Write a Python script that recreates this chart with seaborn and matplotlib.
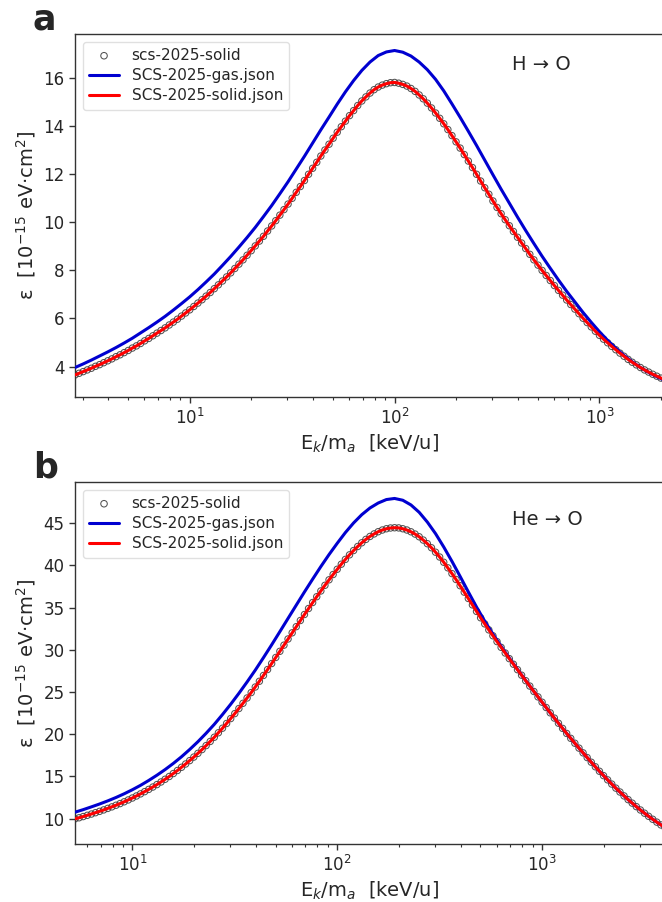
import matplotlib
matplotlib.use("Agg")
import matplotlib.pyplot as plt
import seaborn as sns

# ---- H -> O : energy grid [keV/u] and stopping cross sections [1e-15 eV cm^2]
energy_h = [
    2.754, 2.884, 3.020,
    3.162, 3.311, 3.467, 3.631, 3.802,
    3.981, 4.169, 4.365, 4.571, 4.786,
    5.012, 5.248, 5.495, 5.754, 6.026,
    6.310, 6.607, 6.918, 7.244, 7.586,
    7.943, 8.318, 8.710, 9.120, 9.550,
    10.00, 10.47, 10.96, 11.48, 12.02,
    12.59, 13.18, 13.80, 14.45, 15.14,
    15.85, 16.60, 17.38, 18.20, 19.05,
    19.95, 20.89, 21.88, 22.91, 23.99,
    25.12, 26.30, 27.54, 28.84, 30.20,
    31.62, 33.11, 34.67, 36.31, 38.02,
    39.81, 41.69, 43.65, 45.71, 47.86,
    50.12, 52.48, 54.95, 57.54, 60.26,
    63.10, 66.07, 69.18, 72.44, 75.86,
    79.43, 83.18, 87.10, 91.20, 95.50,
    100.0, 104.7, 109.6, 114.8, 120.2,
    125.9, 131.8, 138.0, 144.5, 151.4,
    158.5, 166.0, 173.8, 182.0, 190.5,
    199.5, 208.9, 218.8, 229.1, 239.9,
    251.2, 263.0, 275.4, 288.4, 302.0,
    316.2, 331.1, 346.7, 363.1, 380.2,
    398.1, 416.9, 436.5, 457.1, 478.6,
    501.2, 524.8, 549.5, 575.4, 602.6,
    631.0, 660.7, 691.8, 724.4, 758.6,
    794.3, 831.8, 871.0, 912.0, 955.0,
    1000.0, 1047.0, 1096.0, 1148.0, 1202.0,
    1259.0, 1318.0, 1380.0, 1445.0, 1514.0,
    1585.0, 1660.0, 1738.0, 1820.0, 1905.0,
    1995.0, 2089.0,
]
solid_h = [
    3.65, 3.72, 3.79,
    3.86, 3.93, 4.01, 4.08, 4.16,
    4.24, 4.32, 4.41, 4.49, 4.58,
    4.67, 4.77, 4.86, 4.96, 5.07,
    5.17, 5.28, 5.39, 5.50, 5.61,
    5.73, 5.85, 5.97, 6.10, 6.23,
    6.36, 6.50, 6.64, 6.78, 6.93,
    7.08, 7.24, 7.40, 7.56, 7.73,
    7.90, 8.08, 8.26, 8.44, 8.63,
    8.82, 9.02, 9.22, 9.42, 9.64,
    9.85, 10.07, 10.30, 10.53, 10.76,
    11.00, 11.25, 11.49, 11.74, 12.00,
    12.25, 12.50, 12.76, 13.01, 13.25,
    13.50, 13.75, 13.98, 14.21, 14.44,
    14.65, 14.86, 15.05, 15.22, 15.38,
    15.52, 15.63, 15.71, 15.77, 15.81,
    15.82, 15.79, 15.74, 15.67, 15.57,
    15.45, 15.30, 15.14, 14.96, 14.76,
    14.55, 14.33, 14.10, 13.86, 13.61,
    13.35, 13.09, 12.82, 12.55, 12.28,
    12.00, 11.72, 11.44, 11.17, 10.89,
    10.62, 10.36, 10.11, 9.86, 9.62,
    9.38, 9.14, 8.91, 8.67, 8.44,
    8.22, 8.00, 7.79, 7.58, 7.37,
    7.17, 6.97, 6.77, 6.58, 6.39,
    6.20, 6.01, 5.83, 5.65, 5.47,
    5.30, 5.14, 4.99, 4.84, 4.70,
    4.56, 4.43, 4.30, 4.18, 4.07,
    3.96, 3.86, 3.77, 3.68, 3.60,
    3.52, 3.45,
]
# gas-phase curve, tabulated on every second grid energy
gas_h = [
    3.96, 4.11,
    4.27, 4.44,
    4.61, 4.79, 4.98,
    5.18, 5.40,
    5.62, 5.85, 6.09,
    6.35, 6.62,
    6.90, 7.20, 7.52,
    7.85, 8.21,
    8.58, 8.97, 9.37,
    9.79, 10.24,
    10.70, 11.19, 11.69,
    12.22, 12.75,
    13.30, 13.85, 14.38,
    14.92, 15.43,
    15.90, 16.32, 16.67,
    16.94, 17.09,
    17.15, 17.08, 16.92,
    16.67, 16.35,
    15.95, 15.47, 14.93,
    14.37, 13.79,
    13.20, 12.59, 11.98,
    11.38, 10.80,
    10.22, 9.66, 9.12,
    8.59, 8.09,
    7.60, 7.13, 6.69,
    6.25, 5.84,
    5.45, 5.09, 4.76,
    4.46, 4.20,
    3.96, 3.76, 3.58,
    3.42,
]

# ---- He -> O ---------------------------------------------------------
energy_he = [
    5.248, 5.495, 5.754, 6.026,
    6.310, 6.607, 6.918, 7.244, 7.586,
    7.943, 8.318, 8.710, 9.120, 9.550,
    10.00, 10.47, 10.96, 11.48, 12.02,
    12.59, 13.18, 13.80, 14.45, 15.14,
    15.85, 16.60, 17.38, 18.20, 19.05,
    19.95, 20.89, 21.88, 22.91, 23.99,
    25.12, 26.30, 27.54, 28.84, 30.20,
    31.62, 33.11, 34.67, 36.31, 38.02,
    39.81, 41.69, 43.65, 45.71, 47.86,
    50.12, 52.48, 54.95, 57.54, 60.26,
    63.10, 66.07, 69.18, 72.44, 75.86,
    79.43, 83.18, 87.10, 91.20, 95.50,
    100.0, 104.7, 109.6, 114.8, 120.2,
    125.9, 131.8, 138.0, 144.5, 151.4,
    158.5, 166.0, 173.8, 182.0, 190.5,
    199.5, 208.9, 218.8, 229.1, 239.9,
    251.2, 263.0, 275.4, 288.4, 302.0,
    316.2, 331.1, 346.7, 363.1, 380.2,
    398.1, 416.9, 436.5, 457.1, 478.6,
    501.2, 524.8, 549.5, 575.4, 602.6,
    631.0, 660.7, 691.8, 724.4, 758.6,
    794.3, 831.8, 871.0, 912.0, 955.0,
    1000.0, 1047.0, 1096.0, 1148.0, 1202.0,
    1259.0, 1318.0, 1380.0, 1445.0, 1514.0,
    1585.0, 1660.0, 1738.0, 1820.0, 1905.0,
    1995.0, 2089.0, 2188.0, 2291.0, 2399.0,
    2512.0, 2630.0, 2754.0, 2884.0, 3020.0,
    3162.0, 3311.0, 3467.0, 3631.0, 3802.0,
    3981.0,
]
solid_he = [
    9.98, 10.11, 10.25, 10.40,
    10.55, 10.71, 10.87, 11.04, 11.22,
    11.40, 11.59, 11.79, 12.00, 12.22,
    12.45, 12.69, 12.94, 13.20, 13.47,
    13.75, 14.04, 14.35, 14.67, 15.00,
    15.35, 15.71, 16.09, 16.48, 16.88,
    17.30, 17.74, 18.19, 18.66, 19.15,
    19.65, 20.18, 20.72, 21.28, 21.86,
    22.45, 23.05, 23.67, 24.30, 24.94,
    25.60, 26.28, 26.97, 27.67, 28.38,
    29.10, 29.83, 30.56, 31.29, 32.02,
    32.75, 33.48, 34.19, 34.90, 35.61,
    36.30, 36.98, 37.65, 38.30, 38.93,
    39.55, 40.15, 40.72, 41.26, 41.77,
    42.25, 42.69, 43.09, 43.44, 43.74,
    44.00, 44.20, 44.35, 44.44, 44.47,
    44.45, 44.35, 44.20, 43.99, 43.72,
    43.40, 43.01, 42.58, 42.10, 41.57,
    41.00, 40.38, 39.72, 39.04, 38.34,
    37.60, 36.84, 36.09, 35.33, 34.56,
    33.80, 33.08, 32.37, 31.67, 30.98,
    30.30, 29.63, 28.96, 28.30, 27.65,
    27.00, 26.35, 25.71, 25.07, 24.43,
    23.80, 23.17, 22.54, 21.92, 21.31,
    20.70, 20.10, 19.52, 18.94, 18.36,
    17.80, 17.24, 16.69, 16.15, 15.62,
    15.10, 14.60, 14.10, 13.62, 13.16,
    12.70, 12.26, 11.84, 11.43, 11.03,
    10.65, 10.28, 9.93, 9.59, 9.26,
    8.95,
]
gas_he = [
    10.77, 11.07,
    11.40, 11.74, 12.11,
    12.51, 12.95,
    13.43, 13.95, 14.53,
    15.15, 15.82,
    16.55, 17.34, 18.20,
    19.12, 20.12,
    21.18, 22.34, 23.56,
    24.85, 26.20,
    27.60, 29.08, 30.60,
    32.16, 33.73,
    35.30, 36.86, 38.38,
    39.87, 41.29,
    42.63, 43.90, 45.04,
    46.02, 46.81,
    47.40, 47.81, 47.94,
    47.73, 47.17,
    46.30, 45.14, 43.77,
    42.19, 40.49,
    38.70, 36.87, 35.08,
    33.40, 31.87,
    30.42, 29.03, 27.69,
    26.37, 25.07,
    23.80, 22.54, 21.31,
    20.10, 18.94,
    17.80, 16.69, 15.62,
    14.60, 13.62,
    12.70, 11.84, 11.03,
    10.28, 9.59,
    8.95,
]

panel_letters = ["a", "b"]
reaction_labels = ["H \u2192 O", "He \u2192 O"]
series_labels = ["scs-2025-solid", "SCS-2025-gas.json", "SCS-2025-solid.json"]
x_label = r"E$_k$/m$_a$  [keV/u]"
y_label = "\u03b5  [10$^{-15}$ eV\u00b7cm$^2$]"

sns.set_style("ticks")
plt.rcParams["font.family"] = ["DejaVu Sans"]
plt.rcParams["axes.edgecolor"] = "0.2"
plt.rcParams["axes.linewidth"] = 1.0

W, H = 662, 902
fig = plt.figure(figsize=(W / 100, H / 100), dpi=100)


def px_axes(left, top, right, bottom):
    return fig.add_axes([left / W, 1 - bottom / H, (right - left) / W, (bottom - top) / H])


axes = [px_axes(75, 34, 665, 397), px_axes(75, 482, 665, 844)]
datasets = [(energy_h, solid_h, gas_h), (energy_he, solid_he, gas_he)]
label_pos = [(0.741, 0.915), (0.741, 0.896)]
letter_y = [30, 477]

for ax, (energy, solid, gas), letter, reaction, lpos, ly in zip(
        axes, datasets, panel_letters, reaction_labels, label_pos, letter_y):
    ax.set_xscale("log")
    sns.scatterplot(x=energy, y=solid, ax=ax, marker="o", s=21,
                    facecolor="none", edgecolor="0.25", linewidth=0.75,
                    alpha=0.9, label=series_labels[0], zorder=2)
    sns.lineplot(x=energy[::2], y=gas, ax=ax, color="#0000d0", linewidth=2.2,
                 label=series_labels[1], estimator=None, sort=False, zorder=3)
    sns.lineplot(x=energy, y=solid, ax=ax, color="#ff0000", linewidth=2.2,
                 label=series_labels[2], estimator=None, sort=False, zorder=4)
    ax.set_xlim(energy[0], energy[-1])
    ax.margins(y=0.05)
    ax.set_xlabel(x_label, fontsize=14)
    ax.set_ylabel(y_label, fontsize=14)
    ax.tick_params(axis="both", which="major", labelsize=12, length=4, width=1,
                   color="0.2", direction="out")
    ax.tick_params(axis="x", which="minor", length=2.5, width=0.8, color="0.2")
    leg = ax.legend(loc="upper left", fontsize=11, frameon=True, framealpha=0.8,
                    edgecolor="0.85", fancybox=True, labelspacing=0.35)
    for h in leg.legend_handles[:1]:
        h.set_sizes([22])
    ax.text(lpos[0], lpos[1], reaction, transform=ax.transAxes, fontsize=14,
            ha="left", va="center")
    fig.text(33 / W, 1 - ly / H, letter, fontsize=25, fontweight="bold",
             ha="left", va="baseline")

fig.savefig("out.png", dpi=100)
